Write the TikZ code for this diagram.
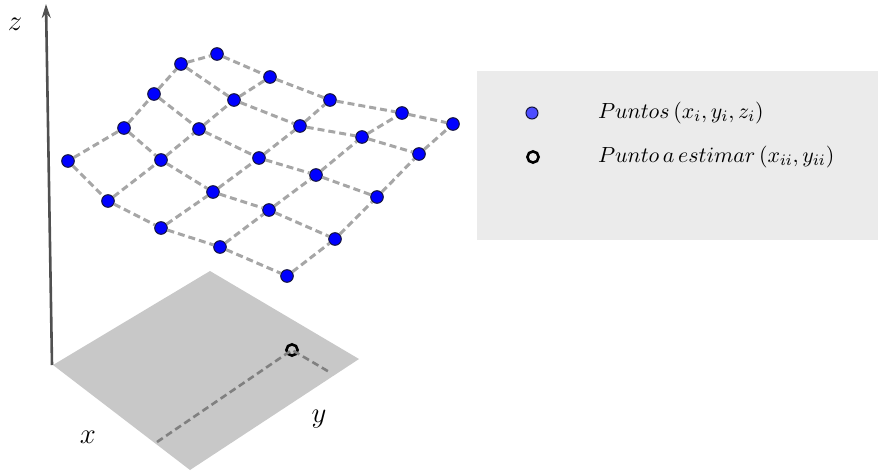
\documentclass[tikz,border=0pt]{standalone}
\usepackage{xcolor}
\usepackage{amsmath}
\usepackage{tikz}
\usetikzlibrary{arrows.meta, positioning}
\definecolor{ptblue}{RGB}{0,0,255}
\definecolor{legblue}{RGB}{77,77,255}
\definecolor{ptedge}{RGB}{20,20,60}
\definecolor{meshgray}{RGB}{166,166,166}
\definecolor{planegray}{RGB}{200,200,200}
\definecolor{footgray}{RGB}{128,128,128}
\definecolor{axisgray}{RGB}{80,80,80}
\definecolor{legendbg}{RGB}{235,235,235}
\tikzset{
  gridpt/.style={circle, fill=ptblue, draw=ptedge, line width=0.5pt,
    minimum size=6.3pt, inner sep=0pt},
  estpt/.style={circle, draw=black, line width=1.3pt,
    minimum size=5.6pt, inner sep=0pt},
  meshline/.style={meshgray, line width=1.5pt, dash pattern=on 3.5pt off 2pt},
  footline/.style={footgray, line width=1.3pt, dash pattern=on 3.5pt off 2pt},
  axisline/.style={-{Stealth[length=7pt, width=4.5pt]}, axisgray, line width=1.3pt}
}

\begin{document}
\begin{tikzpicture}[x=0.5pt, y=-0.5pt,
  axislabel/.style={font=\Large},
  legtext/.style={anchor=west, font=\fontsize{10.9}{13}\selectfont}
]
  \useasboundingbox (0,0) rectangle (878,471);

  % base plane
  \coordinate (pl) at (53,365);
  \coordinate (pt) at (210,271);
  \coordinate (pr) at (359,359);
  \coordinate (pb) at (190,470);
  \fill[planegray] (pl) -- (pt) -- (pr) -- (pb) -- cycle;

  % z axis
  \coordinate (zbase) at (52,365);
  \coordinate (ztip) at (46,4);
  \draw[axisline] (zbase) -- (ztip);
  \node[axislabel] (zlab) at (15,24) {$z$};
  \node[axislabel] (xlab) at (88,437) {$x$};
  \node[axislabel] (ylab) at (319,419) {$y$};

  % point to estimate on the plane
  \node[estpt] (est) at (292,350) {};
  \coordinate (xfoot) at (157,442);
  \coordinate (yfoot) at (331,373);
  \draw[footline] (xfoot) -- (est.center) -- (yfoot);

  % sample points
  \node[gridpt] (p11) at (68,161) {};
  \node[gridpt] (p12) at (108,201) {};
  \node[gridpt] (p13) at (161,228) {};
  \node[gridpt] (p14) at (220,247) {};
  \node[gridpt] (p15) at (287,276) {};
  \node[gridpt] (p21) at (124,128) {};
  \node[gridpt] (p22) at (161,160) {};
  \node[gridpt] (p23) at (213,192) {};
  \node[gridpt] (p24) at (269,210) {};
  \node[gridpt] (p25) at (335,239) {};
  \node[gridpt] (p31) at (154,94) {};
  \node[gridpt] (p32) at (199,129) {};
  \node[gridpt] (p33) at (259,158) {};
  \node[gridpt] (p34) at (316,175) {};
  \node[gridpt] (p35) at (377,197) {};
  \node[gridpt] (p41) at (181,64) {};
  \node[gridpt] (p42) at (234,100) {};
  \node[gridpt] (p43) at (300,126) {};
  \node[gridpt] (p44) at (362,137) {};
  \node[gridpt] (p45) at (419,154) {};
  \node[gridpt] (p51) at (217,54) {};
  \node[gridpt] (p52) at (270,77) {};
  \node[gridpt] (p53) at (330,100) {};
  \node[gridpt] (p54) at (402,113) {};
  \node[gridpt] (p55) at (453,124) {};

  % mesh
  \draw[meshline] (p11) -- (p12) -- (p13) -- (p14) -- (p15);
  \draw[meshline] (p21) -- (p22) -- (p23) -- (p24) -- (p25);
  \draw[meshline] (p31) -- (p32) -- (p33) -- (p34) -- (p35);
  \draw[meshline] (p41) -- (p42) -- (p43) -- (p44) -- (p45);
  \draw[meshline] (p51) -- (p52) -- (p53) -- (p54) -- (p55);
  \draw[meshline] (p11) -- (p21) -- (p31) -- (p41) -- (p51);
  \draw[meshline] (p12) -- (p22) -- (p32) -- (p42) -- (p52);
  \draw[meshline] (p13) -- (p23) -- (p33) -- (p43) -- (p53);
  \draw[meshline] (p14) -- (p24) -- (p34) -- (p44) -- (p54);
  \draw[meshline] (p15) -- (p25) -- (p35) -- (p45) -- (p55);

  % legend
  \node[fill=legendbg, anchor=north west, minimum width=200.5pt,
    minimum height=84.5pt, inner sep=0pt] (legend) at (477,71) {};
  \node[gridpt, fill=legblue, minimum size=6pt] (leg1) at (532,113) {};
  \node[estpt] (leg2) at (533,157) {};
  \node[legtext] (txt1) at (591,113) {$Puntos\,(x_i,y_i,z_i)$};
  \node[legtext] (txt2) at (591,157) {$Punto\,a\,estimar\,(x_{ii},y_{ii})$};
\end{tikzpicture}
\end{document}
